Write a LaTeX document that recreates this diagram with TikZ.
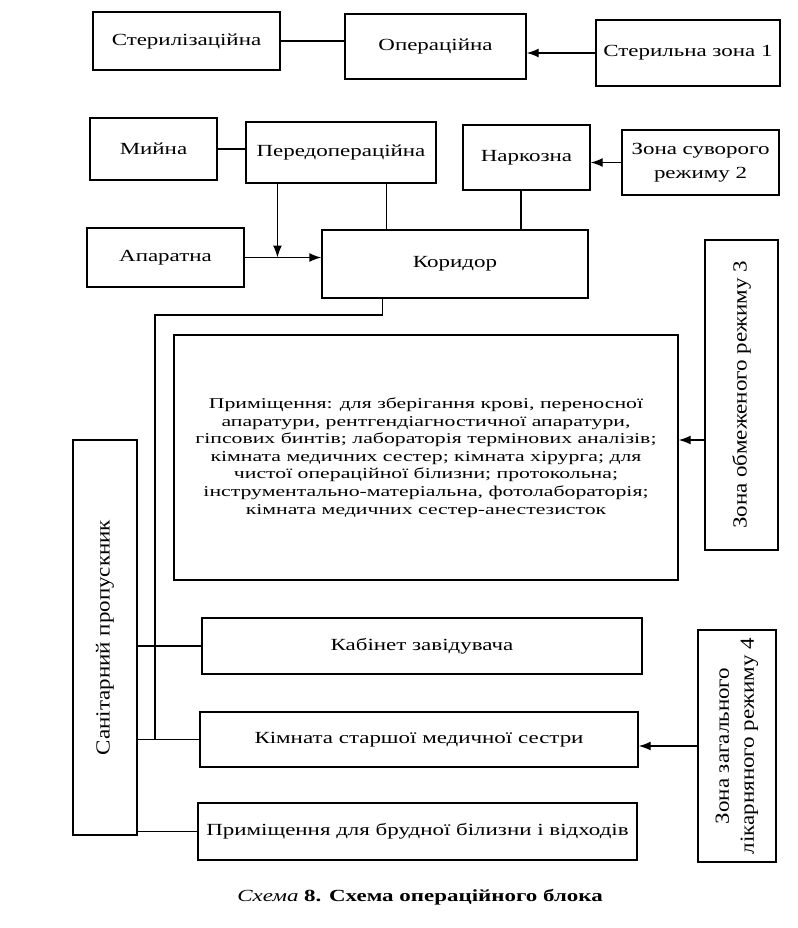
\documentclass[tikz,border=0pt]{standalone}
\usepackage{fontspec}
\setmainfont{Liberation Serif}[FakeStretch=1.35]
\newfontfamily\bigfont{Liberation Serif}[FakeStretch=1.45]
\newfontfamily\rotfont{Liberation Serif}[FakeStretch=1.15]
\usetikzlibrary{arrows.meta,calc}
\begin{document}
\begin{tikzpicture}[x=1pt,y=-1pt,
  box/.style={draw,line width=1.4pt,inner sep=2pt,align=center,font=\fontsize{17}{24}\selectfont},
  conn/.style={line width=1.4pt},
  arr/.style={line width=1.4pt,-{Latex[length=12pt,width=9pt]}},
  vbox/.style={draw,line width=1.4pt,inner sep=2pt,align=center,rotate=90,font=\rotfont\fontsize{20}{25}\selectfont}]
\useasboundingbox (0,0) rectangle (797,928);
% top row
\node[box,minimum width=187pt,minimum height=58pt] (ster) at (186.5,41) {Стерилізаційна};
\node[box,minimum width=181pt,minimum height=65pt] (oper) at (435.5,46.5) {Операційна};
\node[box,minimum width=184pt,minimum height=66pt] (szone) at (688,53) {Стерильна зона 1};
% second row
\node[box,minimum width=127pt,minimum height=62pt] (myina) at (153.5,149) {Мийна};
\node[box,minimum width=190pt,minimum height=61pt] (preop) at (341,152.5) {Передопераційна};
\node[box,minimum width=127pt,minimum height=65pt] (narc) at (526.5,157.5) {Наркозна};
\node[box,minimum width=157pt,minimum height=65pt] (zone2) at (700.5,162.5) {Зона суворого\\режиму 2};
% third row
\node[box,minimum width=157pt,minimum height=59pt] (apar) at (165.5,257.5) {Апаратна};
\node[box,minimum width=266pt,minimum height=68pt] (corr) at (455,264) {Коридор};
% big box
\node[box,minimum width=504pt,minimum height=245pt,font=\bigfont\fontsize{15}{17.6}\selectfont] (big) at (426,457.5)
  {Приміщення: для зберігання крові, переносної\\апаратури, рентгендіагностичної апаратури,\\гіпсових бинтів; лабораторія термінових аналізів;\\кімната медичних сестер; кімната хірурга; для\\чистої операційної білизни; протокольна;\\інструментально-матеріальна, фотолабораторія;\\кімната медичних сестер-анестезисток};
% zones
\node[vbox,minimum width=310pt,minimum height=73pt] (z3) at (741.5,395) {Зона обмеженого режиму 3};
\node[vbox,minimum width=232pt,minimum height=78pt] (z4) at (737,746) {Зона загального\\лікарняного режиму 4};
\node[vbox,minimum width=395pt,minimum height=64pt] (san) at (105,637.5) {Санітарний пропускник};
% lower rooms
\node[box,minimum width=440pt,minimum height=56pt] (kab) at (422,646) {Кабінет завідувача};
\node[box,minimum width=438pt,minimum height=55pt] (kim) at (419,739.5) {Кімната старшої медичної сестри};
\node[box,minimum width=439pt,minimum height=57pt] (brud) at (417.5,831.5) {Приміщення для брудної білизни і відходів};
% caption
\node[font=\fontsize{17}{20}\selectfont] (cap) at (420,897) {\textit{Схема} \textbf{8. Схема операційного блока}};
% connectors
\draw[conn] (ster.east) -- (ster.east -| oper.west);
\draw[arr] (szone.west) -- (szone.west -| oper.east);
\draw[conn] ($(oper.south west)!0.249!(oper.south east)$) -- ($(oper.south west)!0.249!(oper.south east)$ |- preop.north);
\draw[conn] ($(oper.south west)!0.823!(oper.south east)$) -- ($(oper.south west)!0.823!(oper.south east)$ |- narc.north);
\draw[conn] (myina.east) -- (myina.east -| preop.west);
\draw[arr] (zone2.west) -- (zone2.west -| narc.east);
\coordinate (pa) at ($(preop.south west)!0.168!(preop.south east)$);
\draw[arr] (pa) -- (pa |- apar.east);
\draw[arr] (apar.east) -- (apar.east -| corr.west);
\coordinate (pc) at ($(preop.south west)!0.737!(preop.south east)$);
\draw[conn] (pc) -- (pc |- corr.north);
\coordinate (nc) at ($(narc.south west)!0.457!(narc.south east)$);
\draw[conn] (nc) -- (nc |- corr.north);
\coordinate (cb) at ($(corr.south west)!0.229!(corr.south east)$);
\coordinate (cl) at (155,315);
\draw[conn] (cb) |- (cl) -- (cl |- kim.west);
\draw[arr] ([yshift=-45pt]z3.north) -- ([yshift=-45pt]z3.north -| big.east);
\draw[arr] (z4.north) -- (z4.north -| kim.east);
\draw[conn] (san.south |- kab.west) -- (kab.west);
\draw[conn] (san.south |- kim.west) -- (kim.west);
\draw[conn] (san.south |- brud.west) -- (brud.west);
\end{tikzpicture}
\end{document}
